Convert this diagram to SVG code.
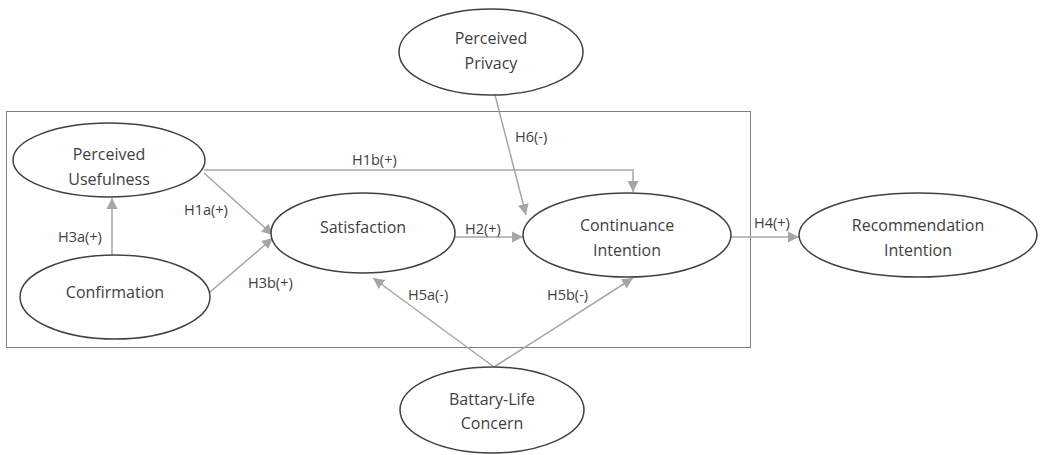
<svg xmlns="http://www.w3.org/2000/svg" width="1042" height="455" viewBox="0 0 1042 455">
<defs>
<marker id="arr" markerUnits="userSpaceOnUse" markerWidth="12" markerHeight="12" refX="11" refY="5.5" orient="auto" viewBox="0 0 12 11">
<path d="M0,0 L11,5.5 L0,11 z" fill="#a6a6a6"/>
</marker>
<style>
.node ellipse{fill:#fff;stroke:#404040;stroke-width:1.5}
.node text,.lbl{font-family:"Open Sans","Noto Sans",sans-serif;font-size:16px;fill:#404040;text-anchor:middle}
.lbl{font-size:14.5px;text-anchor:start}
.conn path{fill:none;stroke:#a6a6a6;stroke-width:1.5;marker-end:url(#arr)}
</style>
</defs>
<rect x="6.5" y="111.5" width="744" height="236" fill="none" stroke="#7f7f7f" stroke-width="1"/>
<g class="conn" id="connectors">
<path d="M204,170 H633 V192"/>
<path d="M204,173 L273,235"/>
<path d="M203,298 L273,238"/>
<path d="M112,255 L112,198"/>
<path d="M455,237 L523,237"/>
<path d="M495,95 L526,215"/>
<path d="M731,237 L799,237"/>
<path d="M494,367 L373,278"/>
<path d="M494,367 L633,278"/>
</g>
<g id="labels">
<text class="lbl" x="352" y="165">H1b(+)</text>
<text class="lbl" x="184" y="215">H1a(+)</text>
<text class="lbl" x="58" y="242">H3a(+)</text>
<text class="lbl" x="248" y="288">H3b(+)</text>
<text class="lbl" x="465" y="234">H2(+)</text>
<text class="lbl" x="515" y="142">H6(-)</text>
<text class="lbl" x="754" y="228">H4(+)</text>
<text class="lbl" x="408" y="300">H5a(-)</text>
<text class="lbl" x="547" y="300">H5b(-)</text>
</g>
<g class="node" id="perceived-usefulness">
<ellipse cx="109" cy="160" rx="96" ry="37"/>
<text x="109" y="160">Perceived</text>
<text x="109" y="185">Usefulness</text>
</g>
<g class="node" id="confirmation">
<ellipse cx="115" cy="297" rx="95" ry="42"/>
<text x="115" y="298">Confirmation</text>
</g>
<g class="node" id="satisfaction">
<ellipse cx="363" cy="233" rx="92" ry="40"/>
<text x="363" y="233">Satisfaction</text>
</g>
<g class="node" id="continuance-intention">
<ellipse cx="627" cy="235" rx="104" ry="42"/>
<text x="627" y="231">Continuance</text>
<text x="627" y="256">Intention</text>
</g>
<g class="node" id="recommendation-intention">
<ellipse cx="918" cy="235" rx="119" ry="42"/>
<text x="918" y="231">Recommendation</text>
<text x="918" y="256">Intention</text>
</g>
<g class="node" id="perceived-privacy">
<ellipse cx="491" cy="52" rx="92" ry="43"/>
<text x="491" y="44">Perceived</text>
<text x="491" y="69">Privacy</text>
</g>
<g class="node" id="battery-life-concern">
<ellipse cx="492" cy="410" rx="92" ry="43"/>
<text x="492" y="405">Battary-Life</text>
<text x="492" y="429">Concern</text>
</g>
</svg>
